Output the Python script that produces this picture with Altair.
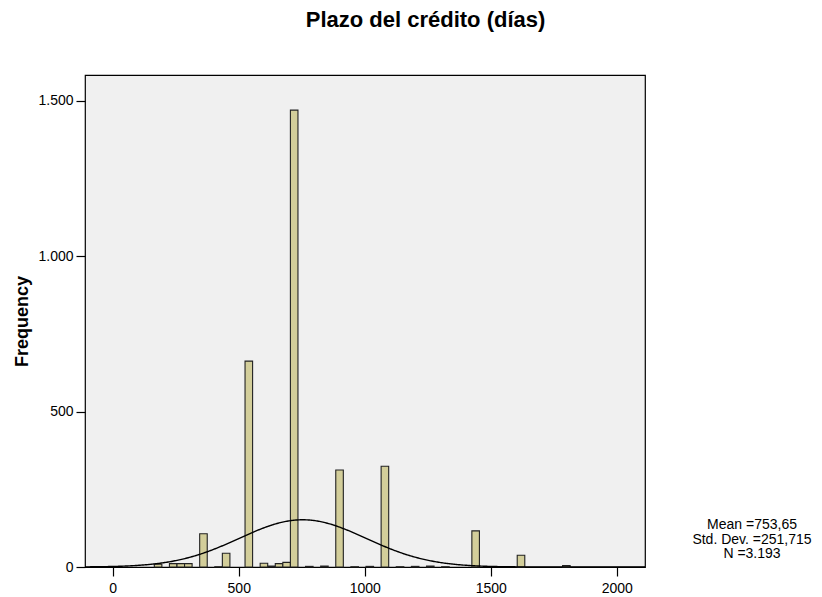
import altair as alt
import numpy as np
import pandas as pd

# ---- data ----
bin_centers = [180, 240, 270, 300, 360, 420, 450, 540, 600, 630, 660, 690, 720,
               780, 840, 900, 960, 1020, 1080, 1140, 1200, 1260, 1320, 1440, 1620, 1800]
frequencies = [9, 11, 11, 11, 107, 1, 44, 662, 12, 3, 11, 15, 1469,
               2, 3, 312, 1, 2, 324, 1, 2, 3, 1, 116, 38, 5]
bin_width = 30

x_ticks = [0, 500, 1000, 1500, 2000]
y_ticks = [0, 500, 1000, 1500]

stat_mean = 753.65
stat_sd = 251.715
stat_n = 3193
stat_lines = "Mean =753,65\nStd. Dev. =251,715\nN =3.193"
title_text = "Plazo del crédito (días)"
y_title = "Frequency"

# ---- tables ----
bars = pd.DataFrame({
    "start": [c - bin_width / 2 for c in bin_centers],
    "end": [c + bin_width / 2 for c in bin_centers],
    "freq": frequencies,
})

# fitted normal curve from the stated statistics
xs = np.linspace(-110, 2112, 500)
curve = pd.DataFrame({
    "start": xs,
    "freq": stat_n * bin_width / (stat_sd * np.sqrt(2 * np.pi))
    * np.exp(-0.5 * ((xs - stat_mean) / stat_sd) ** 2),
})

FONT = "Liberation Sans"
W, H = 560, 492
LEFT, TOP = 85, 75

x_enc = alt.X(
    "start:Q",
    scale=alt.Scale(domain=[-110, 2112], nice=False, zero=False),
    axis=alt.Axis(values=x_ticks, format="d", title=None, grid=False, domain=False,
                  tickSize=9, tickColor="black", tickWidth=1.2,
                  labelFontSize=14, labelColor="black", labelFont=FONT,
                  labelPadding=5),
)
y_enc = alt.Y(
    "freq:Q",
    scale=alt.Scale(domain=[0, 1582], nice=False),
    axis=alt.Axis(values=y_ticks, grid=False, domain=False,
                  labelExpr="replace(format(datum.value, ','), ',', '.')",
                  tickSize=9, tickColor="black", tickWidth=1.2,
                  labelFontSize=14, labelColor="black", labelFont=FONT,
                  labelPadding=3,
                  title=y_title, titleFont=FONT, titleFontSize=18,
                  titleFontWeight="bold", titleColor="black",
                  titleX=-63, titleY=H / 2, titleAngle=-90,
                  titleAlign="center", titleBaseline="middle"),
)

bar_layer = alt.Chart(bars).mark_bar(
    fill="#D3CE9A", stroke="#222222", strokeWidth=1.1
).encode(x=x_enc, x2="end:Q", y=y_enc, y2=alt.datum(0))

curve_layer = alt.Chart(curve).mark_line(
    color="black", strokeWidth=1.4, clip=True
).encode(x=x_enc, y=y_enc)

title_layer = alt.Chart(pd.DataFrame({"t": [title_text]})).mark_text(
    font=FONT, fontSize=22, fontWeight="bold", color="black",
    align="center", baseline="alphabetic"
).encode(x=alt.value(425.5 - LEFT), y=alt.value(26.7 - TOP), text="t:N")

stats_layer = alt.Chart(pd.DataFrame({"t": [stat_lines]})).mark_text(
    font=FONT, fontSize=14, color="black", align="center",
    baseline="middle", lineBreak="\n", lineHeight=14.5
).encode(x=alt.value(752 - LEFT), y=alt.value(525 - TOP), text="t:N")

chart = alt.layer(bar_layer, curve_layer, title_layer, stats_layer).properties(
    width=W, height=H,
    autosize=alt.AutoSizeParams(type="none"),
    padding={"left": LEFT, "top": TOP, "right": 822 - LEFT - W, "bottom": 597 - TOP - H},
    background="white",
).configure_view(
    fill="#F0F0F0", stroke="black", strokeWidth=1.2
)

chart.save("out.html", embed_options={"renderer": "svg", "actions": False})
